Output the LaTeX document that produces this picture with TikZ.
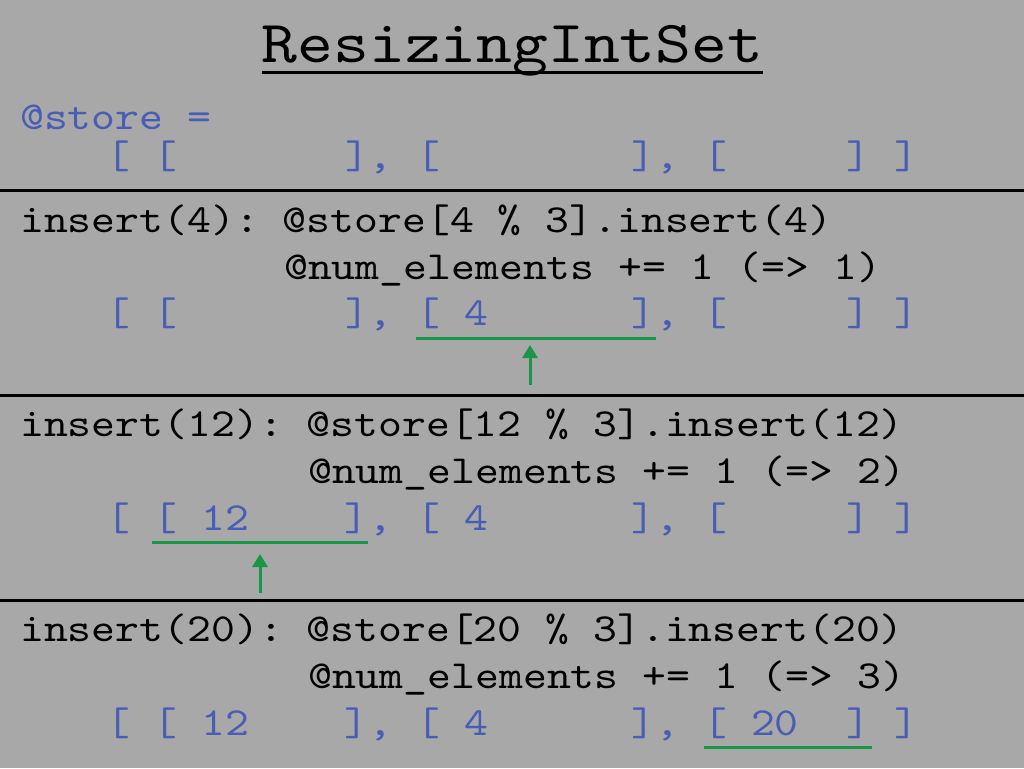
\documentclass[tikz,border=0pt]{standalone}
\usepackage{fontspec}
% slab-serif typewriter face, widened to a 0.6em cell
\setmonofont{lmmono10-regular.otf}[FakeStretch=1.143]
\usetikzlibrary{arrows.meta}
\definecolor{slidebg}{RGB}{168,168,168}
\definecolor{codeblue}{RGB}{72,94,180}
\definecolor{markgreen}{RGB}{26,150,70}
\tikzset{
  code/.style={anchor=base west, inner sep=0pt, text=black,
    font=\ttfamily\fontsize{39.8}{47}\selectfont},
  buckets/.style={code, text=codeblue},
  rule/.style={line width=3pt, draw=black},
  hiliteline/.style={line width=3pt, draw=markgreen},
  pointer/.style={line width=3pt, draw=markgreen, fill=markgreen,
    -{Triangle[width=15pt,length=13pt]}},
}
\begin{document}
\begin{tikzpicture}[x=1pt,y=-1pt]
  % slide background
  \fill[slidebg] (0,0) rectangle (1024,768);
  \useasboundingbox (0,0) rectangle (1024,768);

  % title
  \node[anchor=base, inner sep=0pt, font=\ttfamily\fontsize{59.7}{60}\selectfont]
    (title) at (512.5,62.7) {ResizingIntSet};
  \draw[line width=3pt] ([yshift=-10pt]title.base west) -- ([yshift=-10pt]title.base east);

  % initial state
  \node[buckets] (store) at (20,129.5) {@store =};
  \node[buckets] (row0) at (106,168.5) {[~[~~~~~~~],~[~~~~~~~~],~[~~~~~]~]};

  % separators
  \coordinate (sep1l) at (0,190.5);   \coordinate (sep1r) at (1024,190.5);
  \coordinate (sep2l) at (0,395);     \coordinate (sep2r) at (1024,395);
  \coordinate (sep3l) at (0,600);     \coordinate (sep3r) at (1024,600);
  \draw[rule] (sep1l) -- (sep1r);
  \draw[rule] (sep2l) -- (sep2r);
  \draw[rule] (sep3l) -- (sep3r);

  % insert(4)
  \node[code] (ins4a) at (20,232) {insert(4):~@store[4~\%~3].insert(4)};
  \node[code] (ins4b) at (284,279) {@num\_elements~+=~1~(=>~1)};
  \node[buckets] (row1) at (106,325.5) {[~[~~~~~~~],~[~4~~~~~~],~[~~~~~]~]};
  \coordinate (u1l) at (416,338);  \coordinate (u1r) at (656,338);
  \draw[hiliteline] (u1l) -- (u1r);
  \coordinate (a1s) at (530,385);  \coordinate (a1e) at (530,345);
  \draw[pointer] (a1s) -- (a1e);

  % insert(12)
  \node[code] (ins12a) at (20,436.5) {insert(12):~@store[12~\%~3].insert(12)};
  \node[code] (ins12b) at (308,483.5) {@num\_elements~+=~1~(=>~2)};
  \node[buckets] (row2) at (106,530) {[~[~12~~~~],~[~4~~~~~~],~[~~~~~]~]};
  \coordinate (u2l) at (152,542);  \coordinate (u2r) at (368,542);
  \draw[hiliteline] (u2l) -- (u2r);
  \coordinate (a2s) at (260,593);  \coordinate (a2e) at (260,554);
  \draw[pointer] (a2s) -- (a2e);

  % insert(20)
  \node[code] (ins20a) at (20,641.5) {insert(20):~@store[20~\%~3].insert(20)};
  \node[code] (ins20b) at (308,688.5) {@num\_elements~+=~1~(=>~3)};
  \node[buckets] (row3) at (106,735) {[~[~12~~~~],~[~4~~~~~~],~[~20~~]~]};
  \coordinate (u3l) at (704,747);  \coordinate (u3r) at (872,747);
  \draw[hiliteline] (u3l) -- (u3r);
\end{tikzpicture}
\end{document}
